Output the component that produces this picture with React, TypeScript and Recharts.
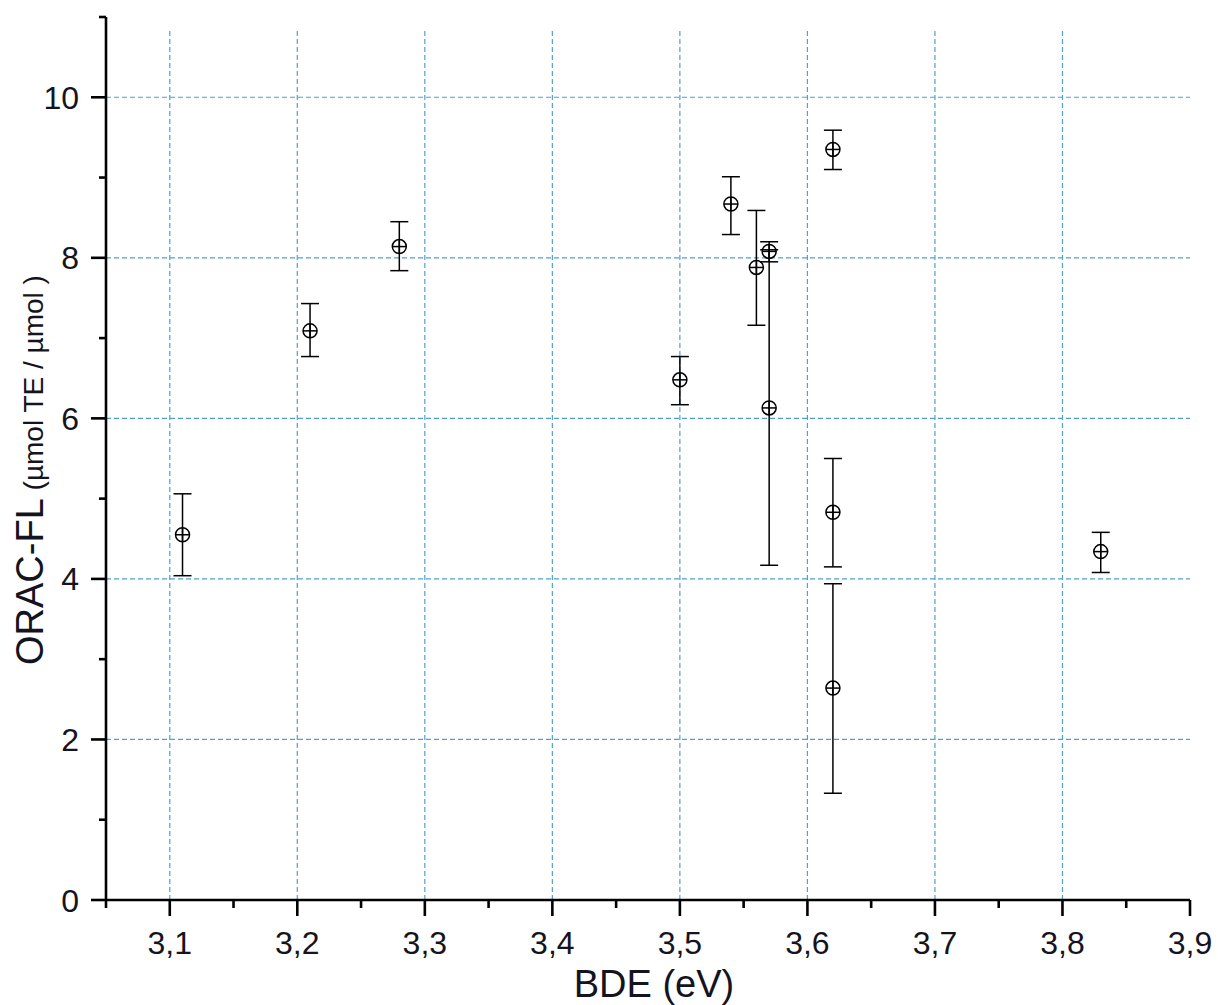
import React from 'react';
import { ScatterChart, Scatter, XAxis, YAxis, ErrorBar, ReferenceLine } from 'recharts';

const bde = [3.11, 3.21, 3.28, 3.50, 3.54, 3.56, 3.57, 3.57, 3.62, 3.62, 3.62, 3.83];
const orac = [4.55, 7.09, 8.14, 6.48, 8.67, 7.88, 8.08, 6.13, 9.35, 4.83, 2.64, 4.34];
const errLow = [0.51, 0.32, 0.30, 0.31, 0.38, 0.72, 0.13, 1.96, 0.25, 0.68, 1.31, 0.26];
const errHigh = [0.51, 0.34, 0.31, 0.29, 0.34, 0.71, 0.12, 1.97, 0.24, 0.67, 1.30, 0.24];

const xMajor = [3.1, 3.2, 3.3, 3.4, 3.5, 3.6, 3.7, 3.8, 3.9];
const xMinor = [3.05, 3.15, 3.25, 3.35, 3.45, 3.55, 3.65, 3.75, 3.85];
const xTickLabels = ['3,1', '3,2', '3,3', '3,4', '3,5', '3,6', '3,7', '3,8', '3,9'];
const yMajor = [0, 2, 4, 6, 8, 10];
const yMinor = [1, 3, 5, 7, 9, 11];
const xGrid = [3.1, 3.2, 3.3, 3.4, 3.5, 3.6, 3.7, 3.8];
const yGrid = [2, 4, 6, 8, 10];

const data = bde.map((x, i) => ({ x, y: orac[i], err: [errLow[i], errHigh[i]] }));
const xTicks = [...xMajor, ...xMinor].sort((a, b) => a - b);
const yTicks = [...yMajor, ...yMinor].sort((a, b) => a - b);

const FONT = '"Liberation Sans", Arial, Helvetica, sans-serif';
const TXT = '#141420';
const GRID = '#4ea3cc';

const isMajor = (v: number, arr: number[]) => arr.findIndex((m) => Math.abs(m - v) < 1e-6);

const XTick = (props: any) => {
  const { x, y, payload } = props;
  const idx = isMajor(payload.value, xMajor);
  const len = idx >= 0 ? 16 : 8;
  return (
    <g>
      <line x1={x} x2={x} y1={y} y2={y + len} stroke="#000" strokeWidth={2.6} />
      {idx >= 0 && (
        <text x={x} y={y + 54} textAnchor="middle" fontSize={32} fontFamily={FONT} fill={TXT}>
          {xTickLabels[idx]}
        </text>
      )}
    </g>
  );
};

const YTick = (props: any) => {
  const { x, y, payload } = props;
  const idx = isMajor(payload.value, yMajor);
  const len = idx >= 0 ? 15 : 7;
  return (
    <g>
      <line x1={x} x2={x - len} y1={y} y2={y} stroke="#000" strokeWidth={2.6} />
      {idx >= 0 && (
        <text x={x - 27} y={y + 11.5} textAnchor="end" fontSize={32} fontFamily={FONT} fill={TXT}>
          {String(yMajor[idx])}
        </text>
      )}
    </g>
  );
};

const Marker = (props: any) => {
  const { cx, cy } = props;
  if (cx == null || cy == null) return null;
  const r = 7;
  return (
    <g>
      <circle cx={cx} cy={cy} r={r} fill="none" stroke="#000" strokeWidth={1.5} />
      <line x1={cx - r} x2={cx + r} y1={cy} y2={cy} stroke="#000" strokeWidth={1.5} />
      <line x1={cx} x2={cx} y1={cy - r} y2={cy + r} stroke="#000" strokeWidth={1.5} />
    </g>
  );
};

const XLabel = (props: any) => {
  const vb = props.viewBox || {};
  return (
    <text x={vb.x + vb.width / 2 + 6} y={vb.y + 97} textAnchor="middle" fontSize={38} fontFamily={FONT} fill={TXT}>
      BDE (eV)
    </text>
  );
};

const YLabel = (props: any) => {
  const vb = props.viewBox || {};
  const x = vb.x + 43;
  const y = vb.y + vb.height - 235;
  return (
    <text x={x} y={y} transform={`rotate(-90, ${x}, ${y})`} textAnchor="start" fontFamily={FONT} fill={TXT}>
      <tspan fontSize={38}>ORAC-FL</tspan>
      <tspan fontSize={28}>{' (µmol TE / µmol )'}</tspan>
    </text>
  );
};

export default function App() {
  return (
    <div style={{ position: 'absolute', left: 0, top: 0, width: 1218, height: 1005, background: '#fff', overflow: 'hidden' }}>
      <ScatterChart width={1218} height={1005} margin={{ top: 17, right: 28, bottom: 0, left: 0 }}>
        <XAxis
          type="number"
          dataKey="x"
          domain={[3.05, 3.9]}
          ticks={xTicks}
          interval={0}
          tickSize={0}
          tickMargin={0}
          tickLine={false}
          tick={<XTick />}
          axisLine={{ stroke: '#000', strokeWidth: 2.6 }}
          height={105}
          allowDataOverflow
          label={{ content: <XLabel /> }}
        />
        <YAxis
          type="number"
          dataKey="y"
          domain={[0, 11]}
          ticks={yTicks}
          interval={0}
          tickSize={0}
          tickMargin={0}
          tickLine={false}
          tick={<YTick />}
          axisLine={{ stroke: '#000', strokeWidth: 2.6 }}
          width={106}
          allowDataOverflow
          label={{ content: <YLabel /> }}
        />
        {xGrid.map((v) => (
          <ReferenceLine
            key={'vx' + v}
            segment={[{ x: v, y: 0 }, { x: v, y: 10.86 }]}
            stroke={GRID}
            strokeWidth={1.2}
            strokeDasharray="5 3"
          />
        ))}
        {yGrid.map((v) => (
          <ReferenceLine key={'hy' + v} y={v} stroke={GRID} strokeWidth={1.2} strokeDasharray="5 3" />
        ))}
        <Scatter data={data} shape={<Marker />} isAnimationActive={false}>
          <ErrorBar dataKey="err" direction="y" width={9} stroke="#000" strokeWidth={1.5} isAnimationActive={false} />
        </Scatter>
      </ScatterChart>
    </div>
  );
}
